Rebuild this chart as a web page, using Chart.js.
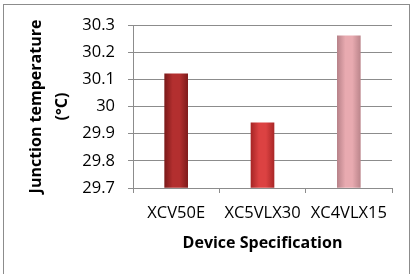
<!DOCTYPE html>
<html>
<head>
<meta charset="utf-8">
<script src="https://cdn.jsdelivr.net/npm/chart.js@4"></script>
<style>
  body { margin: 0; background: #fff; }
  #frame { position: absolute; left: 3px; top: 4px; width: 405px; height: 290px; border: 1px solid #8c8c8c; }
  #wrap { position: absolute; left: 0; top: 0; width: 416px; height: 274px; }
</style>
</head>
<body>
<div id="frame"></div>
<div id="wrap"><canvas id="tempChart" width="416" height="274"></canvas></div>
<script>
const devices = ["XCV50E", "XC5VLX30", "XC4VLX15"];
const junctionTemp = [30.12, 29.94, 30.26];
const barColors = [
  ["#7c1a1a", "#b32f2f", "#801c1c"],
  ["#a82626", "#dc4242", "#ab2828"],
  ["#b9838a", "#e8aab0", "#bc868c"]
];

function barFill(context) {
  const chart = context.chart;
  const cols = barColors[context.dataIndex];
  if (!chart.chartArea || !chart.scales.x) return cols[1];
  const cx = chart.scales.x.getPixelForValue(context.dataIndex);
  const g = chart.ctx.createLinearGradient(cx - 11.5, 0, cx + 11.5, 0);
  g.addColorStop(0, cols[0]);
  g.addColorStop(0.35, cols[1]);
  g.addColorStop(0.65, cols[1]);
  g.addColorStop(1, cols[2]);
  return g;
}

// light bevel at the top of each bar, placed from the bar elements
const bevel = {
  id: "bevel",
  afterDatasetsDraw(chart) {
    const c = chart.ctx;
    chart.getDatasetMeta(0).data.forEach(bar => {
      const half = bar.width / 2;
      const g = c.createLinearGradient(0, bar.y, 0, bar.y + 8);
      g.addColorStop(0, "rgba(255,255,255,0.45)");
      g.addColorStop(1, "rgba(255,255,255,0)");
      c.save();
      c.fillStyle = g;
      c.beginPath();
      c.moveTo(bar.x - half, bar.y);
      c.lineTo(bar.x + half, bar.y);
      c.lineTo(bar.x + half - 4, bar.y + 8);
      c.lineTo(bar.x - half + 4, bar.y + 8);
      c.closePath();
      c.fill();
      c.restore();
    });
  }
};

const ctx = document.getElementById("tempChart").getContext("2d");
new Chart(ctx, {
  type: "bar",
  data: {
    labels: devices,
    datasets: [{
      data: junctionTemp,
      backgroundColor: barFill,
      barThickness: 23,
      base: 29.7
    }]
  },
  options: {
    responsive: false,
    animation: false,
    layout: { padding: { top: 25, right: 24, left: 0, bottom: 0 } },
    plugins: { legend: { display: false }, tooltip: { enabled: false } },
    scales: {
      x: {
        afterFit: s => { s.height = 86; },
        grid: { drawOnChartArea: false, tickLength: 5, color: "#8c8c8c" },
        border: { color: "#8c8c8c" },
        ticks: { color: "#000", padding: 10, font: { family: "Open Sans", size: 16.5 } },
        title: {
          display: true,
          text: "Device Specification",
          color: "#000",
          font: { family: "Open Sans", size: 16, weight: "bold" },
          padding: { bottom: 21 }
        }
      },
      y: {
        min: 29.7,
        max: 30.3,
        afterFit: s => { s.width = 133; },
        grid: { tickLength: 5, color: "#8c8c8c" },
        border: { color: "#8c8c8c" },
        ticks: {
          stepSize: 0.1,
          color: "#000",
          padding: 13,
          font: { family: "Open Sans", size: 16.5 },
          callback: v => Math.round(v * 10) / 10
        },
        title: {
          display: true,
          text: ["Junction temperature", "(°C)"],
          color: "#000",
          font: { family: "Open Sans", size: 16, weight: "bold", lineHeight: 1.625 },
          padding: { top: 23 }
        }
      }
    }
  }
});
</script>
</body>
</html>
